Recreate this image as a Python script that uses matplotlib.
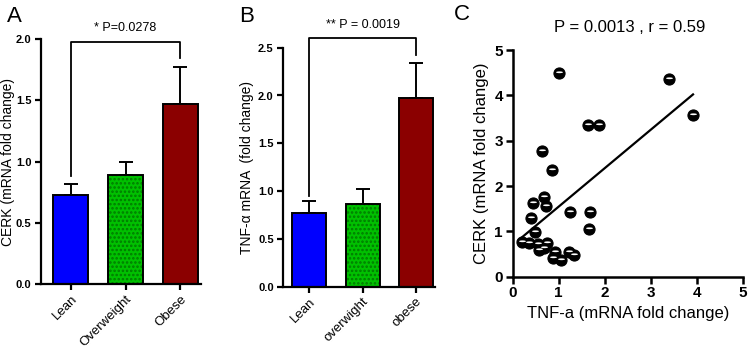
import numpy as np
import matplotlib
matplotlib.use("Agg")
import matplotlib.pyplot as plt
from matplotlib.path import Path
from matplotlib.markers import MarkerStyle

plt.rcParams['font.family'] = ['Liberation Sans', 'DejaVu Sans']
plt.rcParams['hatch.linewidth'] = 1.2

# Panel A data
a_cats = ["Lean", "Overweight", "Obese"]
a_vals = [0.73, 0.89, 1.47]
a_errs = [0.09, 0.11, 0.30]
a_bracket = [0.88, 1.98, 1.85]  # left leg bottom, top, right leg bottom
a_ptext = "* P=0.0278"

# Panel B data
b_cats = ["Lean", "overwight", "obese"]
b_vals = [0.77, 0.87, 1.97]
b_errs = [0.13, 0.15, 0.37]
b_bracket = [0.95, 2.60, 2.42]
b_ptext = "** P = 0.0019"

# Panel C data
c_x = [0.20, 0.36, 0.54, 0.74, 0.58, 0.67, 0.49, 0.40, 0.44, 0.69, 0.72,
       1.25, 1.68, 1.65, 0.91, 0.87, 1.05, 1.23, 1.34, 0.63, 0.85, 1.00,
       1.64, 1.88, 3.40, 3.92]
c_y = [0.77, 0.74, 0.72, 0.75, 0.59, 0.63, 0.99, 1.29, 1.63, 1.75, 1.57,
       1.42, 1.42, 1.05, 0.54, 0.42, 0.37, 0.54, 0.48, 2.77, 2.35, 4.49,
       3.34, 3.34, 4.35, 3.57]
c_fit_x = [0.12, 3.92]
c_fit_y = [0.80, 4.02]
c_title = "P = 0.0013 , r = 0.59"

bar_colors = ["#0000ff", "#00c000", "#8b0000"]
hatch_color = "#007a00"

W, H = 749, 349
fig = plt.figure(figsize=(W / 100, H / 100), dpi=100)

def ax_at(l, t, r, b):
    return fig.add_axes([l / W, 1 - b / H, (r - l) / W, (b - t) / H])

def style_bar_axes(ax, yticks):
    for s in ["top", "right"]:
        ax.spines[s].set_visible(False)
    for s in ["left", "bottom"]:
        ax.spines[s].set_linewidth(1.6)
    ax.tick_params(width=1.6, length=4.5, direction="out", pad=2)
    ax.set_yticks(yticks)
    ax.set_yticklabels([f"{t:.1f}" for t in yticks], fontweight="bold", fontsize=8)

def bar_panel(ax, cats, vals, errs, ylim, yticks, xlim, bracket, ptext, ylabel, label_x):
    x = np.arange(len(cats))
    for i in range(len(cats)):
        if i == 1:
            ax.bar(x[i], vals[i], width=0.64, color=bar_colors[i], edgecolor=hatch_color,
                   linewidth=0, hatch="....", zorder=2)
            ax.bar(x[i], vals[i], width=0.64, fill=False, edgecolor="black",
                   linewidth=1.4, zorder=3)
        else:
            ax.bar(x[i], vals[i], width=0.64, color=bar_colors[i], edgecolor="black",
                   linewidth=1.4, zorder=2)
        ax.errorbar(x[i], vals[i], yerr=[[0], [errs[i]]], fmt="none", ecolor="black",
                    elinewidth=1.4, capsize=5, capthick=1.4, zorder=1)
    ax.set_xlim(*xlim)
    ax.set_ylim(*ylim)
    ax.set_xticks(x)
    ax.set_xticklabels(cats, rotation=45, ha="right", rotation_mode="anchor", fontsize=9.5)
    ax.set_ylabel(ylabel, fontsize=10)
    ax.yaxis.set_label_coords(label_x, 0.5)
    ax.plot([x[0], x[0], x[2], x[2]], [bracket[0], bracket[1], bracket[1], bracket[2]],
            color="black", lw=1.3, clip_on=False)
    ax.text((x[0] + x[2]) / 2, bracket[1] + (ylim[1] - ylim[0]) * 0.03, ptext,
            ha="center", va="bottom", fontsize=9)
    style_bar_axes(ax, yticks)

axA = ax_at(40.5, 39.3, 201, 284)
bar_panel(axA, a_cats, a_vals, a_errs, (0, 2.0), [0, 0.5, 1.0, 1.5, 2.0],
          (-0.555, 2.38), a_bracket, a_ptext, "CERK (mRNA fold change)", (15 - 40.5) / 160.5)

axB = ax_at(282.7, 47.7, 435, 286.7)
bar_panel(axB, b_cats, b_vals, b_errs, (0, 2.5), [0, 0.5, 1.0, 1.5, 2.0, 2.5],
          (-0.50, 2.36), b_bracket, b_ptext, "TNF-\u03b1 mRNA  (fold change)", (254 - 282.7) / 152.3)

# shaded sphere-like marker: black disc plus a white highlight band
t = np.linspace(0, 2 * np.pi, 40)
band = np.column_stack([0.62 * np.cos(t), 0.22 + 0.16 * np.sin(t)])
verts = np.vstack([band, [[1, 1], [-1, -1]]])
codes = [Path.MOVETO] + [Path.LINETO] * (len(t) - 2) + [Path.CLOSEPOLY] + [Path.MOVETO, Path.MOVETO]
band_marker = MarkerStyle(Path(verts, codes))

axC = ax_at(512.7, 50, 742.7, 276.7)
axC.plot(c_fit_x, c_fit_y, color="black", lw=1.6, zorder=1)
axC.plot(c_x, c_y, linestyle="none", marker="o", markersize=8, markeredgecolor="black",
         markeredgewidth=0.8, markerfacecolor="black", zorder=2, clip_on=False)
axC.plot(c_x, c_y, linestyle="none", marker=band_marker, markersize=8,
         markeredgewidth=0, markerfacecolor="white", zorder=3, clip_on=False)
axC.set_xlim(0, 5)
axC.set_ylim(0, 5)
axC.set_xticks([0, 1, 2, 3, 4, 5])
axC.set_yticks([0, 1, 2, 3, 4, 5])
for s in ["top", "right"]:
    axC.spines[s].set_visible(False)
for s in ["left", "bottom"]:
    axC.spines[s].set_linewidth(1.8)
axC.tick_params(width=1.8, length=5, direction="out", labelsize=11, pad=2)
for lab in axC.get_xticklabels() + axC.get_yticklabels():
    lab.set_fontweight("bold")
axC.set_xlabel("TNF-a (mRNA fold change)", fontsize=12)
axC.set_ylabel("CERK (mRNA fold change)", fontsize=12)
fig.text(630 / W, 1 - 28 / H, c_title, ha="center", va="center", fontsize=12)

fig.text(14 / W, 1 - 16 / H, "A", fontsize=16, ha="center", va="center")
fig.text(247 / W, 1 - 16 / H, "B", fontsize=16, ha="center", va="center")
fig.text(462 / W, 1 - 14 / H, "C", fontsize=16, ha="center", va="center")

fig.savefig("out.png", dpi=100)
